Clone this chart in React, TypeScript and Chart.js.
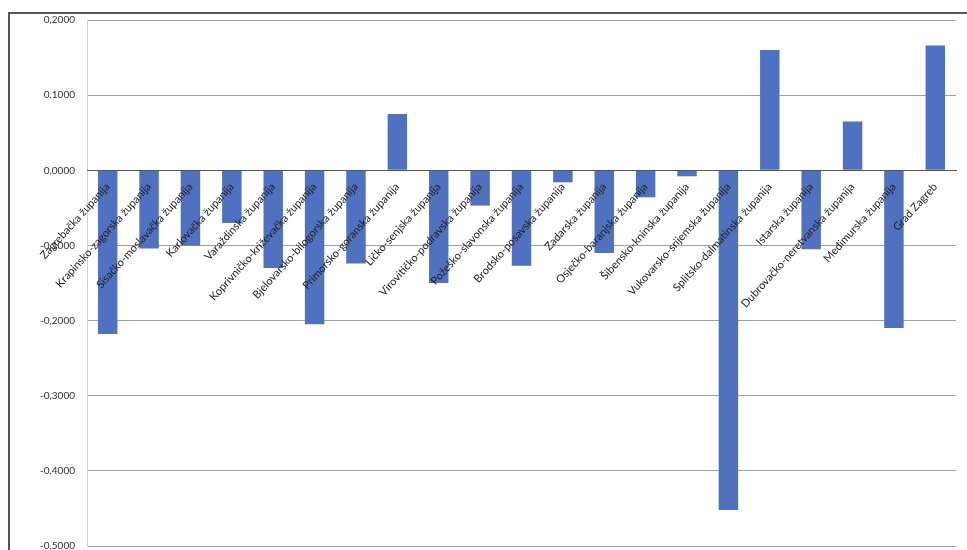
import React, { useEffect, useRef } from "react";
import { Chart, registerables } from "chart.js";

Chart.register(...registerables);

const counties: string[] = [
  "Zagrebačka županija",
  "Krapinsko-zagorska županija",
  "Sisačko-moslavačka županija",
  "Karlovačka županija",
  "Varaždinska županija",
  "Koprivničko-križevačka županija",
  "Bjelovarsko-bilogorska županija",
  "Primorsko-goranska županija",
  "Ličko-senjska županija",
  "Virovitičko-podravska županija",
  "Požeško-slavonska županija",
  "Brodsko-posavska županija",
  "Zadarska županija",
  "Osječko-baranjska županija",
  "Šibensko-kninska županija",
  "Vukovarsko-srijemska županija",
  "Splitsko-dalmatinska županija",
  "Istarska županija",
  "Dubrovačko-neretvanska županija",
  "Međimurska županija",
  "Grad Zagreb",
];

const values: number[] = [
  -0.218, -0.104, -0.1, -0.07, -0.13, -0.205, -0.124, 0.075, -0.15, -0.047,
  -0.127, -0.016, -0.11, -0.036, -0.008, -0.452, 0.16, -0.105, 0.065, -0.21,
  0.166,
];

const yTickValues: number[] = [0.2, 0.1, 0, -0.1, -0.2, -0.3, -0.4, -0.5];
const yTickLabels: string[] = [
  "0,2000",
  "0.1000",
  "0,0000",
  "-0,1000",
  "-0,2000",
  "-0,3000",
  "-0,4000",
  "-0,5000",
];

export default function App() {
  const ref = useRef<HTMLCanvasElement | null>(null);

  useEffect(() => {
    document.body.style.margin = "0";
    const ctx = ref.current;
    if (!ctx) return;
    const chart = new Chart(ctx, {
      type: "bar",
      data: {
        labels: counties,
        datasets: [
          {
            data: values,
            backgroundColor: "#5070C0",
            borderWidth: 0,
            categoryPercentage: 1,
            barPercentage: 0.47,
          },
        ],
      },
      options: {
        animation: false,
        responsive: false,
        maintainAspectRatio: false,
        layout: { padding: { left: 0, right: 11, top: 20, bottom: 5 } },
        plugins: {
          legend: { display: false },
          tooltip: { enabled: false },
        },
        scales: {
          x: {
            position: { y: 0 } as any,
            afterFit: (scale: any) => {
              scale.height = 0;
            },
            grid: { display: false },
            border: { display: true, color: "#555", width: 1, z: 1 },
            ticks: {
              z: 1,
              autoSkip: false,
              minRotation: 48,
              maxRotation: 48,
              color: "#222",
              padding: 2,
              font: { family: "Lato", size: 11 },
            },
          },
          y: {
            min: -0.5,
            max: 0.2,
            afterFit: (scale: any) => {
              scale.width = 87;
            },
            afterBuildTicks: (scale: any) => {
              scale.ticks = yTickValues.map((v) => ({ value: v }));
            },
            grid: { color: "#a0a0a0", lineWidth: 1, drawTicks: false },
            border: { display: true, color: "#d0d0d0" },
            ticks: {
              color: "#333",
              padding: 12,
              font: { family: "Lato", size: 10 },
              callback: (v: any) => {
                const i = yTickValues.findIndex((t) => Math.abs(t - Number(v)) < 1e-9);
                return i >= 0 ? yTickLabels[i] : "";
              },
            },
          },
        },
      },
    });
    return () => chart.destroy();
  }, []);

  return (
    <div style={{ position: "relative", width: 967, height: 550, background: "#fff", overflow: "hidden" }}>
      <div
        style={{
          position: "absolute",
          left: 8,
          top: 12,
          width: 959,
          height: 538,
          borderLeft: "2px solid #555",
          borderTop: "2px solid #555",
          boxSizing: "border-box",
        }}
      />
      <canvas ref={ref} width={967} height={564} style={{ position: "absolute", left: 0, top: 0 }} />
    </div>
  );
}
